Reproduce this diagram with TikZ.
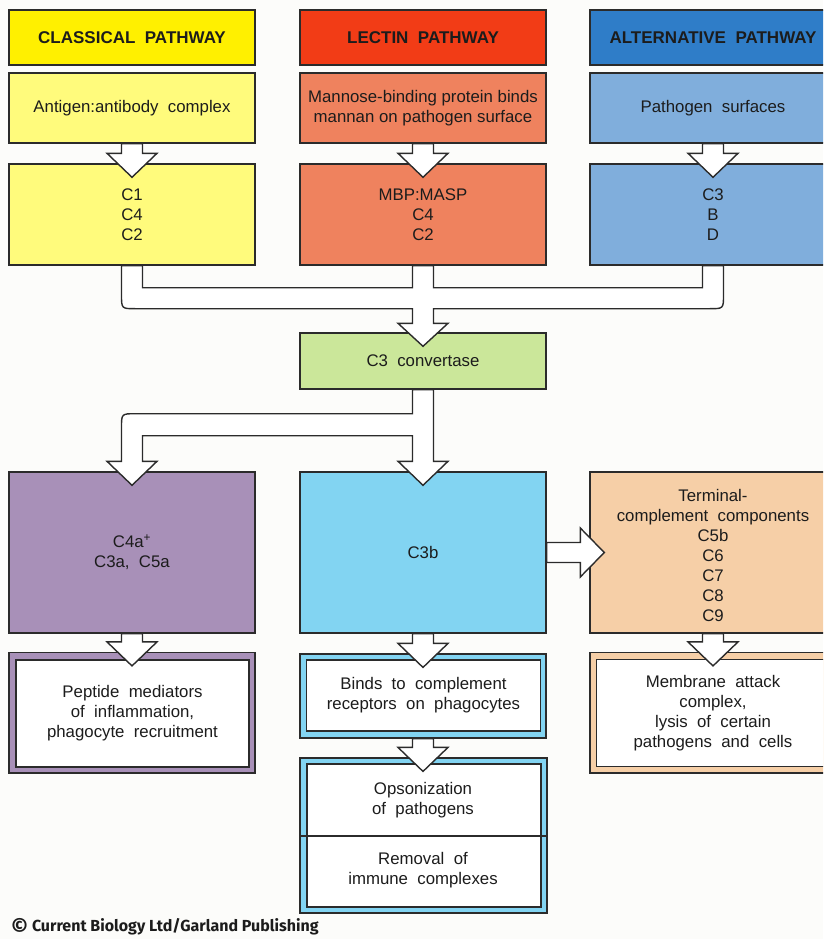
\documentclass[tikz,border=0pt]{standalone}
\usepackage{fontspec}
\setmainfont{Liberation Sans}
\newfontfamily\creditfont{Fira Sans}
\usetikzlibrary{calc}

\definecolor{bgpaper}{HTML}{FCFCFA}
\definecolor{classhead}{HTML}{FFF000}
\definecolor{classbox}{HTML}{FFFB7C}
\definecolor{lechead}{HTML}{F23C16}
\definecolor{lecbox}{HTML}{EF825E}
\definecolor{althead}{HTML}{2F7DC8}
\definecolor{altbox}{HTML}{80AEDC}
\definecolor{convbox}{HTML}{CBE79A}
\definecolor{purplebox}{HTML}{A890B8}
\definecolor{cyanbox}{HTML}{82D4F2}
\definecolor{peachbox}{HTML}{F6CFA7}
\definecolor{inkline}{HTML}{2B2B2B}
\definecolor{inktext}{HTML}{1C1C1C}

% vertical block arrow from the bottom of one box into the top of the next
\newcommand\vblockarrow[2]{%
  \filldraw[blockarrow] let \p1=(#1.south), \p2=(#2.north) in
    (\x1-10.5pt,\y1) -- (\x1-10.5pt,\y2+10pt) -- (\x1-25pt,\y2+10pt)
    -- (\x1,\y2-14pt) -- (\x1+25pt,\y2+10pt) -- (\x1+10.5pt,\y2+10pt)
    -- (\x1+10.5pt,\y1) -- cycle;}

\begin{document}
\begin{tikzpicture}[x=1pt,y=-1pt,
  box/.style={draw=inkline, line width=1.4pt, inner sep=0pt, align=center,
    text=inktext, font=\fontsize{16.8}{20}\selectfont},
  headbox/.style={box, minimum width=246, minimum height=55,
    font=\bfseries\fontsize{17}{20}\selectfont},
  topbox/.style={box, minimum width=246, minimum height=70},
  midbox/.style={box, minimum width=246, minimum height=101},
  bigbox/.style={box, minimum width=246, minimum height=161},
  framebox/.style={draw=inkline, line width=1.2pt, inner sep=0pt, minimum width=246},
  whitebox/.style={box, fill=white},
  plaintext/.style={inner sep=0pt, align=center, text=inktext,
    font=\fontsize{16.8}{20}\selectfont},
  blockarrow/.style={fill=white, draw=inkline, line width=1.4pt, line join=miter}]

\clip (0,0) rectangle (823,939);
\fill[bgpaper] (0,0) rectangle (823,939);

% pathway headers
\node[headbox, fill=classhead] (clsH) at (132,37.5) {CLASSICAL\ \ PATHWAY};
\node[headbox, fill=lechead]   (lecH) at (423,37.5) {LECTIN\ \ PATHWAY};
\node[headbox, fill=althead]   (altH) at (713,37.5) {ALTERNATIVE\ \ PATHWAY};

% triggers
\node[topbox, fill=classbox] (clsT) at (132,108) {Antigen:antibody\ \ complex};
\node[topbox, fill=lecbox]   (lecT) at (423,108) {Mannose-binding protein binds\\mannan on pathogen surface};
\node[topbox, fill=altbox]   (altT) at (713,108) {Pathogen\ \ surfaces};

% early components
\node[midbox, fill=classbox] (cls3) at (132,214.5) {C1\\C4\\C2};
\node[midbox, fill=lecbox]   (lec3) at (423,214.5) {MBP:MASP\\C4\\C2};
\node[midbox, fill=altbox]   (alt3) at (713,214.5) {C3\\B\\D};

% convertase
\node[box, fill=convbox, minimum width=246, minimum height=56] (conv) at (423,361) {C3\ \ convertase};

% cleavage products
\node[bigbox, fill=purplebox] (pur)  at (132,552.5) {C4a\textsuperscript{+}\\C3a,\ \ C5a};
\node[bigbox, fill=cyanbox]   (c3b)  at (423,552.5) {C3b};
\node[bigbox, fill=peachbox]  (term) at (713,552.5) {};
\node[plaintext] (termtxt) at (713,555) {Terminal-\\complement\ \ components\\C5b\\C6\\C7\\C8\\C9};

% effector functions
\node[framebox, fill=purplebox, minimum height=120.5] (pepF) at (132,712.75) {};
\node[whitebox, minimum width=233, minimum height=107] (pep) at (132.5,713.5)
  {Peptide\ \ mediators\\of\ \ inflammation,\\phagocyte\ \ recruitment};

\node[framebox, fill=cyanbox, minimum height=84] (bindF) at (423,696) {};
\node[whitebox, minimum width=234, minimum height=71] (bind) at (423.5,695.5)
  {Binds\ \ to\ \ complement\\receptors\ \ on\ \ phagocytes};

\node[framebox, fill=peachbox, minimum height=120.5] (memF) at (713,712.75) {};
\node[whitebox, minimum width=233, minimum height=107] (mem) at (713,713)
  {Membrane\ \ attack\\complex,\\lysis\ \ of\ \ certain\\pathogens\ \ and\ \ cells};

\node[framebox, fill=cyanbox, minimum width=247, minimum height=155] (opsF) at (423.5,835.5) {};
\node[whitebox, minimum width=234, minimum height=143] (ops) at (423.8,835.3) {};
\draw[inkline, line width=1.4pt] (opsF.west |- 0,836) coordinate (divL) -- (opsF.east |- 0,836) coordinate (divR);
\node[plaintext] (opsUp) at (423,800) {Opsonization\\of\ \ pathogens};
\node[plaintext] (opsLo) at (423,870) {Removal\ \ of\\immune\ \ complexes};

% single arrows
\vblockarrow{clsT}{cls3}
\vblockarrow{lecT}{lec3}
\vblockarrow{altT}{alt3}
\vblockarrow{pur}{pepF}
\vblockarrow{c3b}{bindF}
\vblockarrow{term}{memF}
\vblockarrow{bindF}{opsF}

% three pathways merging into the convertase
\filldraw[blockarrow] let \p1=(cls3.south), \p2=(lec3.south), \p3=(alt3.south), \p4=(conv.north) in
  (\x1-10.5pt,\y1) -- (\x1-10.5pt,\y1-29pt)
  .. controls (\x1-10.5pt,\y1-43pt) .. (\x1+3.5pt,\y1-43pt)
  -- (\x4-10.5pt,\y1-43pt) -- (\x4-10.5pt,\y4+9pt) -- (\x4-25pt,\y4+9pt)
  -- (\x4,\y4-14pt) -- (\x4+25pt,\y4+9pt) -- (\x4+10.5pt,\y4+9pt)
  -- (\x4+10.5pt,\y1-43pt) -- (\x3-3.5pt,\y1-43pt)
  .. controls (\x3+10.5pt,\y1-43pt) .. (\x3+10.5pt,\y1-29pt)
  -- (\x3+10.5pt,\y3) -- (\x3-10.5pt,\y3) -- (\x3-10.5pt,\y3-22pt)
  -- (\x2+10.5pt,\y3-22pt) -- (\x2+10.5pt,\y2) -- (\x2-10.5pt,\y2)
  -- (\x2-10.5pt,\y2-22pt) -- (\x1+10.5pt,\y2-22pt) -- (\x1+10.5pt,\y1) -- cycle;

% convertase splitting into its two products
\filldraw[blockarrow] let \p1=(conv.south), \p2=(pur.north), \p3=(c3b.north) in
  (\x1-10.5pt,\y1) -- (\x1-10.5pt,\y1-24pt) -- (\x2+3.5pt,\y1-24pt)
  .. controls (\x2-10.5pt,\y1-24pt) .. (\x2-10.5pt,\y1-38pt)
  -- (\x2-10.5pt,\y2+10pt) -- (\x2-25pt,\y2+10pt) -- (\x2,\y2-14pt)
  -- (\x2+25pt,\y2+10pt) -- (\x2+10.5pt,\y2+10pt) -- (\x2+10.5pt,\y1-46pt)
  -- (\x3-10.5pt,\y1-46pt) -- (\x3-10.5pt,\y3+10pt) -- (\x3-25pt,\y3+10pt)
  -- (\x3,\y3-14pt) -- (\x3+25pt,\y3+10pt) -- (\x3+10.5pt,\y3+10pt)
  -- (\x3+10.5pt,\y1) -- cycle;

% C3b feeding the terminal components
\filldraw[blockarrow] let \p1=(c3b.east), \p2=(term.west) in
  (\x1,\y1+10pt) -- (\x2-9pt,\y1+10pt) -- (\x2-9pt,\y1+24.5pt) -- (\x2+15pt,\y1)
  -- (\x2-9pt,\y1-24.5pt) -- (\x2-9pt,\y1-10pt) -- (\x1,\y1-10pt) -- cycle;

% credit line
\node[anchor=base west, inner sep=0pt, text=inktext,
  font=\creditfont\bfseries\fontsize{16}{18}\selectfont] (credit) at (11,931.5)
  {\raisebox{-2.5pt}{\fontsize{21}{20}\selectfont\textcopyright}\ Current Biology Ltd/Garland Publishing};
\end{tikzpicture}
\end{document}
